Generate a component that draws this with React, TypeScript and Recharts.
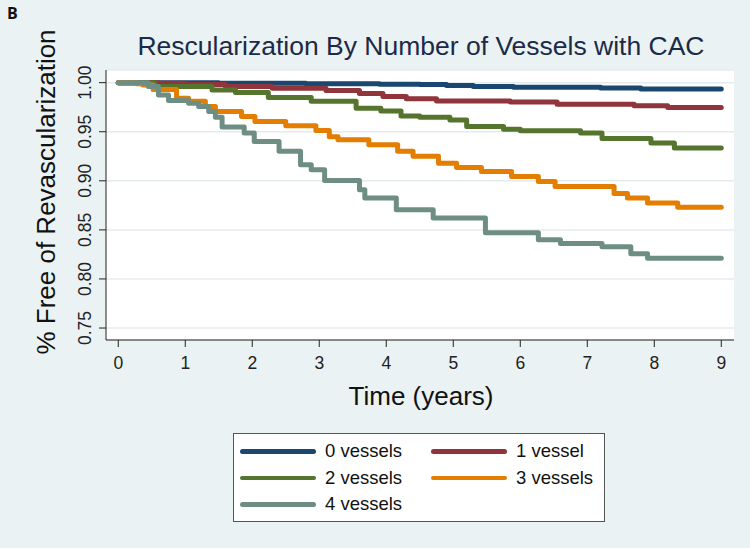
import React from 'react';
import { LineChart, Line, XAxis, YAxis, CartesianGrid } from 'recharts';

const FONT = '"Liberation Sans", Arial, Helvetica, sans-serif';

const titleText = 'Rescularization By Number of Vessels with CAC';
const xLabelText = 'Time (years)';
const yLabelText = '% Free of Revascularization';
const panelLetter = 'B';

const xTicks = [0, 1, 2, 3, 4, 5, 6, 7, 8, 9];
const yTicks = [0.75, 0.8, 0.85, 0.9, 0.95, 1.0];

const seriesNames = ['0 vessels', '1 vessel', '2 vessels', '3 vessels', '4 vessels'];
const seriesColors = ['#1a476f', '#90353b', '#55752f', '#e37e00', '#6e8e84'];

const vessels0Time = [0, 1.5, 2.8, 3.9, 4.5, 4.9, 5.3, 5.9, 7.2, 7.8, 9.0];
const vessels0Surv = [1.0, 0.9995, 0.999, 0.9985, 0.998, 0.997, 0.996, 0.9953, 0.9945, 0.9936, 0.9936];

const vessels1Time = [0, 0.6, 1.0, 1.6, 2.3, 3.1, 3.6, 3.95, 4.3, 4.75, 5.85, 6.55, 7.7, 8.2, 9.0];
const vessels1Surv = [1.0, 0.9995, 0.998, 0.996, 0.9943, 0.992, 0.989, 0.986, 0.9835, 0.9814, 0.9804, 0.978, 0.9766, 0.9746, 0.9746];

const vessels2Time = [0, 0.55, 1.4, 1.75, 2.24, 2.88, 3.55, 3.92, 4.22, 4.5, 4.95, 5.2, 5.75, 6.0, 6.9, 7.22, 7.95, 8.3, 9.0];
const vessels2Surv = [1.0, 0.996, 0.9926, 0.99, 0.985, 0.981, 0.974, 0.9712, 0.966, 0.9648, 0.962, 0.9553, 0.9526, 0.951, 0.9486, 0.943, 0.9384, 0.9333, 0.9333];

const vessels3Time = [0, 0.27, 0.37, 0.52, 0.87, 1.05, 1.3, 1.45, 1.84, 2.04, 2.5, 2.95, 3.15, 3.28, 3.74, 4.17, 4.4, 4.78, 5.05, 5.42, 5.87, 6.27, 6.52, 7.4, 7.6, 7.9, 8.35, 9.0];
const vessels3Surv = [1.0, 0.999, 0.9977, 0.993, 0.984, 0.981, 0.9756, 0.9705, 0.9655, 0.9604, 0.956, 0.9512, 0.945, 0.9418, 0.9367, 0.93, 0.925, 0.918, 0.9136, 0.9095, 0.9045, 0.8994, 0.8943, 0.887, 0.8825, 0.8774, 0.873, 0.873];

const vessels4Time = [0, 0.45, 0.6, 0.75, 1.05, 1.2, 1.35, 1.45, 1.55, 1.88, 2.03, 2.4, 2.72, 2.88, 3.08, 3.6, 3.68, 4.15, 4.7, 5.48, 6.27, 6.6, 7.22, 7.65, 7.9, 9.0];
const vessels4Surv = [1.0, 0.996, 0.9875, 0.9817, 0.979, 0.9756, 0.9705, 0.9648, 0.9547, 0.9486, 0.94, 0.93, 0.9164, 0.9113, 0.9004, 0.891, 0.8825, 0.8706, 0.862, 0.847, 0.84, 0.836, 0.8327, 0.8256, 0.821, 0.821];

const toPoints = (ts: number[], ss: number[]) => ts.map((t, i) => ({ t, s: ss[i] }));
const seriesData = [
  toPoints(vessels0Time, vessels0Surv),
  toPoints(vessels1Time, vessels1Surv),
  toPoints(vessels2Time, vessels2Surv),
  toPoints(vessels3Time, vessels3Surv),
  toPoints(vessels4Time, vessels4Surv),
];

const XTick = (props: any) => {
  const { x, y, payload } = props;
  return (
    <text x={x} y={y} dy={22} textAnchor="middle" fontSize={17.5} fontFamily={FONT} fill="#222">
      {payload.value}
    </text>
  );
};

const YTick = (props: any) => {
  const { x, y, payload } = props;
  const bx = x - 8;
  return (
    <text x={bx} y={y} transform={`rotate(-90, ${bx}, ${y})`} textAnchor="middle" fontSize={17.5} fontFamily={FONT} fill="#222">
      {Number(payload.value).toFixed(2)}
    </text>
  );
};

export default function App() {
  return (
    <div style={{ position: 'absolute', left: 0, top: 0, width: 750, height: 548, background: '#eaf2f3', fontFamily: FONT }}>
      <LineChart width={750} height={548} margin={{ top: 70, right: 16, bottom: 0, left: 0 }}>
        <CartesianGrid vertical={false} stroke="#e4ebee" strokeWidth={1.5} fill="#ffffff" />
        <XAxis
          dataKey="t"
          type="number"
          domain={[-0.183, 9.19]}
          allowDataOverflow
          ticks={xTicks}
          interval={0}
          height={208}
          tickSize={7}
          tickMargin={0}
          tick={<XTick />}
          axisLine={{ stroke: '#222' }}
          tickLine={{ stroke: '#222' }}
        />
        <YAxis
          type="number"
          domain={[0.7378, 1.0129]}
          allowDataOverflow
          ticks={yTicks}
          interval={0}
          width={106}
          tickSize={7}
          tickMargin={0}
          tick={<YTick />}
          axisLine={{ stroke: '#222' }}
          tickLine={{ stroke: '#222' }}
        />
        {seriesData.map((d, i) => (
          <Line
            key={seriesNames[i]}
            data={d}
            dataKey="s"
            name={seriesNames[i]}
            type="stepAfter"
            stroke={seriesColors[i]}
            strokeWidth={5}
            strokeLinejoin="round"
            strokeLinecap="round"
            dot={false}
            activeDot={false}
            isAnimationActive={false}
          />
        ))}
      </LineChart>
      <svg width={750} height={548} style={{ position: 'absolute', left: 0, top: 0, pointerEvents: 'none' }}>
        <text x={7} y={19} fontSize={16} fontWeight="bold" fontFamily={'"Open Sans", ' + FONT} fill="#111">{panelLetter}</text>
        <text x={421} y={55} textAnchor="middle" fontSize={26.5} fontFamily={FONT} fill="#1c2a48">{titleText}</text>
        <text x={421} y={405} textAnchor="middle" fontSize={26} fontFamily={FONT} fill="#111">{xLabelText}</text>
        <text x={55} y={192} transform="rotate(-90, 55, 192)" textAnchor="middle" fontSize={26} fontFamily={FONT} fill="#111">{yLabelText}</text>
      </svg>
      <div
        style={{
          position: 'absolute',
          left: 233,
          top: 433,
          width: 372,
          height: 89,
          boxSizing: 'border-box',
          border: '1px solid #555',
          background: '#fff',
          display: 'grid',
          gridTemplateColumns: '191px auto',
          gridAutoRows: '26.5px',
          padding: '4px 0 0 6px',
        }}
      >
        {seriesNames.map((n, i) => (
          <div key={n} style={{ display: 'flex', alignItems: 'center' }}>
            <div style={{ width: 76, height: 4.5, borderRadius: 2.5, background: seriesColors[i], marginRight: 9 }} />
            <span style={{ fontSize: 18.5, lineHeight: 1, color: '#111', fontFamily: FONT }}>{n}</span>
          </div>
        ))}
      </div>
    </div>
  );
}
